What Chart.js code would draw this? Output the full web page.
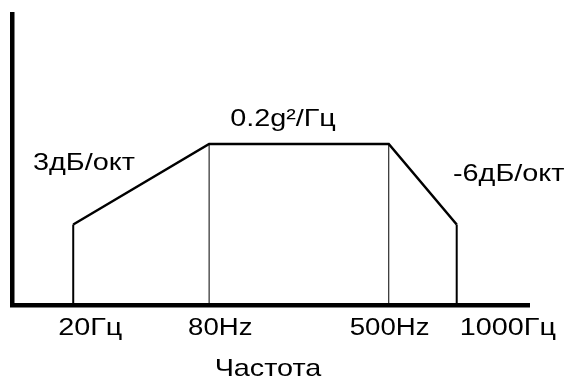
<!DOCTYPE html>
<html>
<head>
<meta charset="utf-8">
<script src="https://cdn.jsdelivr.net/npm/chart.js@4.4.1/dist/chart.umd.min.js"></script>
<style>
  html, body { margin: 0; padding: 0; background: #fff; }
  #wrap { width: 568px; height: 383px; }
</style>
</head>
<body>
<div id="wrap"><canvas id="psdChart"></canvas></div>
<script>
// breakpoints of the spectrum (Hz) and the level at each one
const freqs = [20, 80, 500, 1000];
const levels = [0.1, 0.2, 0.2, 0.1];
const tickLabels = ['20Гц', '80Hz', '500Hz', '1000Гц'];
const smallTicks = [80, 500];

const FONT = "'Liberation Sans', Arial, sans-serif";
// labels in the picture are not centred on their lines; left edge nudge per tick
const labelNudge = [-15, -21, -39, 3];

// outline: up from axis at 20, slope, plateau, slope, down at 1000
const outline = [{ x: freqs[0], y: 0 }]
    .concat(freqs.map((f, i) => ({ x: f, y: levels[i] })))
    .concat([{ x: freqs[freqs.length - 1], y: 0 }]);

const innerLines = [1, 2].map(i => ({
    data: [{ x: freqs[i], y: 0 }, { x: freqs[i], y: levels[i] }],
    borderColor: '#000',
    borderWidth: 1,
    pointRadius: 0,
    showLine: true
}));

// the text in the picture is a bit wider than Arial, so stretch it a little
function wideText(ctx, text, x, y, align) {
    const sx = 1.2;
    const w = ctx.measureText(text).width * sx;
    const left = align === 'center' ? x - w / 2 : x;
    ctx.save();
    ctx.translate(left, y);
    ctx.scale(sx, 1);
    ctx.textAlign = 'left';
    ctx.fillText(text, 0, 0);
    ctx.restore();
}

const annotations = {
    id: 'annotations',
    afterDatasetsDraw(chart) {
        const ctx = chart.ctx;
        const a = chart.chartArea;
        const xs = chart.scales.x;
        ctx.save();
        // axes
        ctx.fillStyle = '#000';
        ctx.fillRect(a.left - 2, a.top, 4.5, a.bottom - a.top + 2);
        ctx.fillRect(a.left - 2, a.bottom - 2, a.right - a.left + 2, 4.5);

        ctx.textBaseline = 'alphabetic';
        // tick labels, placed from the x scale
        xs.ticks.forEach((t, i) => {
            const size = smallTicks.includes(t.value) ? 23 : 24;
            ctx.font = size + 'px ' + FONT;
            const x = xs.getPixelForValue(t.value) + labelNudge[i];
            wideText(ctx, tickLabels[freqs.indexOf(t.value)], x, 335, 'left');
        });
        ctx.font = '24px ' + FONT;
        wideText(ctx, 'Частота', 268, 376, 'center');

        wideText(ctx, '3дБ/окт', 33, 170, 'left');
        wideText(ctx, '-6дБ/окт', 453, 181, 'left');
        wideText(ctx, '0.2g²/Гц', 283, 126, 'center');
        ctx.restore();
    }
};

const config = {
    type: 'scatter',
    data: {
        datasets: [{
            data: outline,
            borderColor: '#000',
            borderWidth: 2.5,
            pointRadius: 0,
            showLine: true,
            segment: {
                borderWidth: c => c.p0.parsed.x === c.p1.parsed.x ? 2 : 2.5
            }
        }].concat(innerLines)
    },
    options: {
        responsive: true,
        maintainAspectRatio: false,
        animation: false,
        layout: { padding: { left: 12, right: 38, top: 12, bottom: 0 } },
        plugins: {
            legend: { display: false },
            tooltip: { enabled: false }
        },
        scales: {
            x: {
                type: 'logarithmic',
                min: 10.71,
                max: 2112,
                afterBuildTicks: scale => {
                    scale.ticks = freqs.map(v => ({ value: v }));
                },
                afterFit: scale => { scale.height = 78; },
                grid: { display: false },
                border: { display: false },
                ticks: { display: false },
                title: { display: false }
            },
            y: {
                display: false,
                min: 0,
                max: 0.364
            }
        }
    },
    plugins: [annotations]
};

window.onload = function () {
    const ctx = document.getElementById('psdChart').getContext('2d');
    new Chart(ctx, config);
};
</script>
</body>
</html>
